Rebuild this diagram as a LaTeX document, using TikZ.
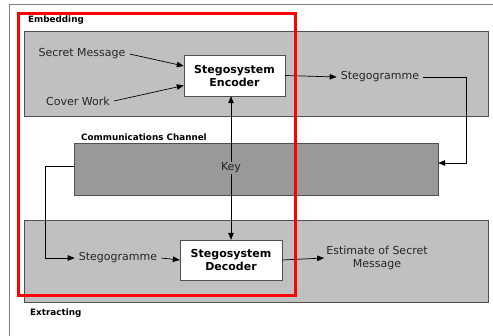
\documentclass[tikz,border=0pt]{standalone}
\usepackage{fontspec}
\setmainfont{DejaVu Sans}
\usetikzlibrary{arrows.meta}

\definecolor{panelgray}{HTML}{C0C0C0}
\definecolor{changray}{HTML}{999999}
\definecolor{edgegray}{HTML}{505050}

\begin{document}
\begin{tikzpicture}[x=1pt,y=-1pt,
  lbl/.style={font=\fontsize{11}{13}\selectfont, text=black!85, inner sep=4pt},
  sect/.style={font=\bfseries\fontsize{8.8}{10}\selectfont, inner sep=0pt, anchor=west},
  panel/.style={draw=edgegray, fill=panelgray, inner sep=0pt},
  sysbox/.style={draw=edgegray, fill=white, font=\bfseries\fontsize{11}{13}\selectfont,
    align=center, inner sep=0pt},
  arr/.style={-{Triangle[length=7pt,width=5.5pt]}, line width=0.7pt}]
\useasboundingbox (0,0) rectangle (493,335);
% outer frame
\draw[gray] (9,345) -- (9,4) -- (500,4);
% panels
\node[panel, minimum width=464pt, minimum height=85pt] (embed) at (256,73.5) {};
\node[panel, minimum width=464pt, minimum height=82pt] (extract) at (256,261) {};
\node[panel, fill=changray, minimum width=364pt, minimum height=52pt] (chan) at (256,169) {};
\node[sect] (embedlbl) at (28,20) {Embedding};
\node[sect] (chanlbl) at (81,137) {Communications Channel};
\node[sect] (extractlbl) at (30,313) {Extracting};
% boxes
\node[sysbox, minimum width=101pt, minimum height=41pt] (enc) at (234.5,75.5) {Stegosystem\\Encoder};
\node[sysbox, minimum width=102pt, minimum height=40pt] (dec) at (231,260) {Stegosystem\\Decoder};
% texts
\node[lbl] (secret) at (82,54) {Secret Message};
\node[lbl] (cover) at (78,101) {Cover Work};
\node[lbl] (stegoout) at (380,77) {Stegogramme};
\node[lbl, inner sep=1pt] (key) at (231,168) {Key};
\node[lbl] (stegoin) at (118,258) {Stegogramme};
\node[lbl, align=center, inner sep=2pt] (est) at (377,258) {Estimate of Secret\\Message};
\coordinate (turnA) at (466,77);
\coordinate (turnB) at (45,258);
% connectors
\draw[arr] (secret.east) -- ([yshift=9.5pt]enc.west);
\draw[arr] (cover.east) -- ([yshift=-10pt]enc.west);
\draw[arr] (enc.east) -- (stegoout.west);
\draw[arr] (stegoout.east) -- (turnA) |- ([yshift=6pt]chan.east);
\draw[arr] (key.north) -- (key.north |- enc.south);
\draw[arr] (key.south) -- (key.south |- dec.north);
\draw[arr] ([yshift=3pt]chan.west) -| (turnB) -- (stegoin.west);
\draw[arr] (stegoin.east) -- (dec.west);
\draw[arr] (dec.east) -- (est.west);
% highlight
\draw[red, line width=3pt] (18,13) rectangle (295,295);
\end{tikzpicture}
\end{document}
